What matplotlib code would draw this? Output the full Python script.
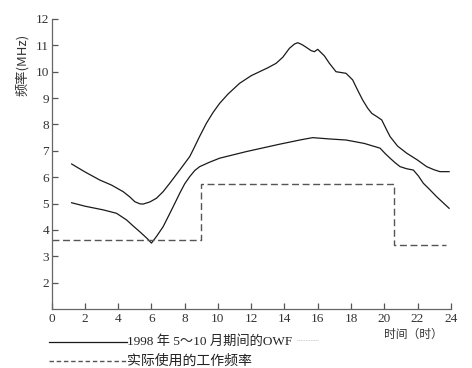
import numpy as np
import matplotlib
matplotlib.use('Agg')
import matplotlib.pyplot as plt
from matplotlib.lines import Line2D

# OWF upper envelope (hour, MHz)
upper_hour = [1.2, 2.0, 2.9, 3.6, 4.3, 4.7, 5.0, 5.3, 5.5, 5.9, 6.3, 6.7, 7.1, 7.7, 8.3, 8.5,
              8.9, 9.3, 9.7, 10.1, 10.6, 11.3, 12.0, 12.5, 13.0, 13.5, 13.9, 14.3, 14.6,
              14.8, 15.05, 15.3, 15.6, 15.8, 16.0, 16.4, 16.7, 17.1, 17.4, 17.7, 18.1,
              18.4, 18.7, 19.0, 19.25, 19.55, 19.85, 20.1, 20.35, 20.8, 21.35, 22.0,
              22.55, 23.0, 23.35, 23.9]
upper_mhz = [6.50, 6.20, 5.89, 5.70, 5.45, 5.25, 5.07, 4.99, 4.98, 5.06, 5.20, 5.45, 5.77,
             6.27, 6.78, 7.03, 7.55, 8.04, 8.45, 8.80, 9.15, 9.56, 9.85, 10.00, 10.15, 10.32,
             10.55, 10.89, 11.05, 11.10, 11.03, 10.93, 10.80, 10.76, 10.85, 10.60, 10.32,
             10.00, 9.97, 9.94, 9.69, 9.30, 8.93, 8.62, 8.42, 8.30, 8.17, 7.85, 7.54, 7.18,
             6.91, 6.65, 6.40, 6.28, 6.21, 6.21]

# OWF lower envelope
lower_hour = [1.2, 2.0, 3.1, 3.9, 4.5, 4.9, 5.3, 5.7, 6.0, 6.3, 6.7, 7.1, 7.5, 7.7, 8.0,
              8.3, 8.6, 8.9, 9.5, 10.1, 11.7, 13.7, 15.0, 15.7, 16.7, 17.7, 18.8, 19.75,
              20.05, 20.35, 20.65, 20.95, 21.35, 21.75, 22.05, 22.35, 22.75, 23.15, 23.9]
lower_mhz = [5.03, 4.90, 4.76, 4.63, 4.38, 4.15, 3.93, 3.70, 3.50, 3.75, 4.12, 4.62, 5.13,
             5.39, 5.75, 6.02, 6.25, 6.40, 6.57, 6.72, 6.97, 7.25, 7.42, 7.50, 7.45, 7.41,
             7.28, 7.10, 6.90, 6.72, 6.55, 6.40, 6.32, 6.27, 6.05, 5.77, 5.52, 5.26, 4.82]

# working frequency actually used (step)
work_hour = [0, 9.0, 9.0, 20.6, 20.6, 23.7]
work_mhz = [3.62, 3.62, 5.75, 5.75, 3.42, 3.42]

fig = plt.figure(figsize=(4.72, 3.68), dpi=100)
ax = fig.add_axes([0.1095, 0.1603, 0.8455, 0.7881])

ax.plot(upper_hour, upper_mhz, color='#1a1a1a', lw=0.9)
ax.plot(lower_hour, lower_mhz, color='#1a1a1a', lw=0.9)
ax.plot(work_hour, work_mhz, color='#555555', lw=1.0, linestyle=(0, (5, 2.6)))

ax.set_xlim(0, 24)
ax.set_ylim(1, 12)
ax.set_xticks(range(0, 25, 2))
ax.set_yticks(range(2, 13))
for s in ['top', 'right']:
    ax.spines[s].set_visible(False)
for s in ['left', 'bottom']:
    ax.spines[s].set_color('#666666')
    ax.spines[s].set_linewidth(0.9)
ax.tick_params(direction='in', length=4.5, width=0.9, color='#555555',
               labelcolor='#333333', labelsize=9.5)
ax.tick_params(axis='y', pad=2)
ax.tick_params(axis='x', pad=3)
for lab in ax.get_xticklabels() + ax.get_yticklabels():
    lab.set_family('Liberation Serif')

cjk = ['Liberation Serif', 'Noto Sans CJK SC']
fig.text(22 / 472, 1 - 65 / 368, '频率(MHz)', rotation=90, ha='center', va='center',
         fontsize=9.5, color='#333333', family=['Noto Sans CJK SC'])
fig.text(413 / 472, 1 - 334 / 368, '时间（时）', ha='center', va='center',
         fontsize=8.5, color='#333333', family=['Noto Sans CJK SC'])

# legend drawn by hand below the axes
y1, y2 = 1 - 341.5 / 368, 1 - 361 / 368
fig.add_artist(Line2D([49 / 472, 127 / 472], [y1, y1], color='#1a1a1a', lw=0.9))
fig.add_artist(Line2D([49 / 472, 127 / 472], [y2, y2], color='#555555', lw=1.0,
                      linestyle=(0, (3.2, 2.0))))
fig.add_artist(Line2D([297 / 472, 318 / 472], [y1 + 0.004, y1 + 0.004], color='#bbbbbb',
                      lw=0.6, linestyle=(0, (1, 1))))
fig.text(127 / 472, y1, '1998 年 5～10 月期间的OWF', ha='left', va='center',
         fontsize=9.5, color='#222222', family=cjk)
fig.text(127 / 472, y2, '实际使用的工作频率', ha='left', va='center',
         fontsize=10, color='#222222', family=['Noto Sans CJK SC'])

fig.savefig('out.png', dpi=100)
